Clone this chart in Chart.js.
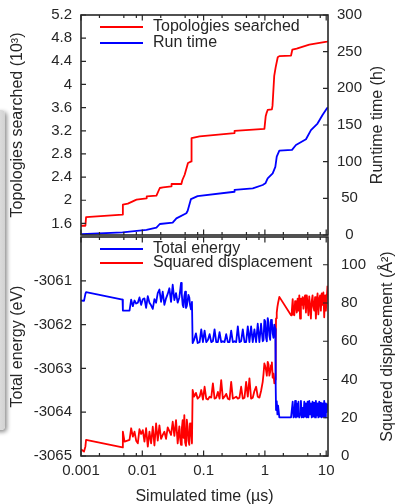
<!DOCTYPE html>
<html>
<head>
<meta charset="utf-8">
<style>
  html, body { margin: 0; padding: 0; background: #fff; }
  #wrap { position: relative; width: 398px; height: 504px; overflow: hidden; background: #fff; }
  #wrap canvas { position: absolute; left: 0; }
  #topChart { top: 0; }
  #bottomChart { top: 230px; }
  /* grey side tab peeking in at the left edge */
  .tab { position: absolute; left: -9px; top: 110px; width: 14px; height: 320px;
         background: linear-gradient(to right, #ececec, #d2d2d2); border-radius: 4px;
         box-shadow: 2px 2px 4px rgba(0, 0, 0, 0.45); }
</style>
</head>
<body>
<div id="wrap">
  <div class="tab"></div>
  <canvas id="topChart" width="398" height="250"></canvas>
  <canvas id="bottomChart" width="398" height="274"></canvas>
</div>
<script src="https://cdn.jsdelivr.net/npm/chart.js@4.4.1/dist/chart.umd.min.js"></script>
<script>
// ---- top panel: topologies searched (10^3) vs simulated time (us)
const searchT = [0.001, 0.00118, 0.00121, 0.00476, 0.00482, 0.00581, 0.00805, 0.0117, 0.0118, 0.0170,
  0.0193, 0.0218, 0.0298, 0.0300, 0.0434, 0.0451, 0.0491, 0.0556, 0.0631, 0.0636, 0.0861, 0.319, 0.320,
  0.982, 1.03, 1.06, 1.11, 1.30, 1.33, 1.42, 1.50, 1.62, 1.72, 2.67, 2.80, 3.30, 5.30, 10.3, 10.7];
const searchK = [1.56, 1.56, 1.71, 1.752, 1.924, 1.941, 2.010, 2.033, 2.067, 2.079,
  2.212, 2.222, 2.240, 2.281, 2.281, 2.35, 2.441, 2.643, 2.671, 3.074, 3.102, 3.160, 3.200,
  3.234, 3.45, 3.50, 3.56, 3.57, 3.63, 4.15, 4.30, 4.47, 4.49, 4.50, 4.60, 4.62, 4.69, 4.74, 4.745];

// ---- top panel: wall-clock run time (h)
const wallT = [0.001, 0.00476, 0.0117, 0.0170, 0.0193, 0.0313, 0.036, 0.0523, 0.055, 0.0622, 0.0798,
  0.319, 0.32, 0.634, 0.921, 1.019, 1.11, 1.34, 1.48, 1.56, 1.72, 2.77, 3.21, 4.68, 5.64, 7.22, 8.71, 10.3, 10.7];
const wallH = [1, 3.7, 7, 10, 15, 17, 22.7, 29.6, 33, 49, 53,
  59, 61.4, 63.7, 68.2, 70.5, 77.3, 84, 93, 107, 115, 116, 122.7, 130.5, 143, 152, 163.6, 172.8, 174];

// ---- bottom panel: total energy (eV) and squared displacement (A^2)
const mdTime = [0.00100, 0.00112, 0.00118, 0.00121, 0.00476, 0.00482, 0.00513, 0.00619,
  0.00658, 0.00701, 0.00746, 0.00794, 0.00845, 0.00899, 0.00957, 0.01019, 0.01084, 0.01154,
  0.01229, 0.01308, 0.01392, 0.01482, 0.01577, 0.01679, 0.01786, 0.01902, 0.02024, 0.02154,
  0.02293, 0.02441, 0.02598, 0.02765, 0.02943, 0.03133, 0.03334, 0.03549, 0.03777, 0.04020,
  0.04150, 0.04279, 0.04400, 0.04555, 0.04700, 0.04848, 0.05000, 0.05160, 0.05320, 0.05492,
  0.05650, 0.05846, 0.06000, 0.06223, 0.06460, 0.06624,
  0.0700, 0.0750, 0.0800, 0.0861, 0.0916, 0.0975, 0.1038, 0.1105, 0.1176, 0.1253, 0.1333,
  0.1418, 0.1509, 0.1607, 0.1710, 0.1820, 0.1937, 0.2062, 0.2195, 0.2337, 0.2488, 0.2648,
  0.2818, 0.3001, 0.3194, 0.3398, 0.3616, 0.3848, 0.4096, 0.4360, 0.4650, 0.4939, 0.5257,
  0.5595, 0.5955, 0.6338, 0.6746, 0.7180, 0.7641, 0.8133, 0.8656, 0.9213, 0.9500, 0.9806,
  1.0100, 1.0437, 1.0750, 1.1110, 1.1450, 1.1820, 1.2200, 1.2580, 1.3000, 1.3390, 1.3800,
  1.4260, 1.4800,
  1.50, 1.52, 1.56, 1.60, 1.64, 1.72, 2.67,
  2.75, 2.84, 2.93, 3.02, 3.11, 3.21, 3.31, 3.42, 3.53, 3.64, 3.75, 3.87, 4.00, 4.12, 4.25,
  4.39, 4.53, 4.67, 4.82, 4.97, 5.13, 5.29, 5.46, 5.63, 5.81, 5.99, 6.18, 6.38, 6.58, 6.79,
  7.00, 7.23, 7.45, 7.69, 7.94, 8.19, 8.45, 8.71, 8.99, 9.28, 9.58, 9.88, 10.2, 10.5];
const energy = [-3061.45, -3061.46, -3061.30, -3061.26, -3061.43, -3061.68, -3061.68, -3061.68,
  -3061.43, -3061.58, -3061.45, -3061.52, -3061.50, -3061.38, -3061.55, -3061.42, -3061.40, -3061.62,
  -3061.35, -3061.50, -3061.56, -3061.64, -3061.42, -3061.50, -3061.28, -3061.20, -3061.48, -3061.25,
  -3061.55, -3061.40, -3061.30, -3061.17, -3061.48, -3061.09, -3061.44, -3061.28, -3061.50, -3061.38,
  -3061.22, -3061.05, -3061.30, -3061.55, -3061.60, -3061.35, -3061.25, -3061.62, -3061.58, -3061.45,
  -3061.32, -3061.38, -3061.55, -3061.65, -3061.48, -3062.42,
  -3062.35, -3062.20, -3062.42, -3062.40, -3062.11, -3062.40, -3062.14, -3062.40, -3062.35, -3062.22, -3062.40,
  -3062.38, -3062.11, -3062.40, -3062.40, -3062.17, -3062.40, -3062.38, -3062.40, -3062.22, -3062.40, -3062.40,
  -3062.14, -3062.40, -3062.38, -3062.40, -3062.04, -3062.40, -3062.38, -3062.11, -3062.40, -3062.40, -3062.04,
  -3062.40, -3062.04, -3062.40, -3062.11, -3062.40, -3061.98, -3062.40, -3061.98, -3062.38, -3062.35, -3061.89,
  -3061.92, -3062.30, -3062.38, -3061.85, -3061.95, -3062.25, -3062.35, -3061.89, -3061.92, -3062.20, -3062.30,
  -3062.00, -3062.10,
  -3063.40, -3063.95, -3063.75, -3064.05, -3063.85, -3064.12, -3064.12,
  -3064.12, -3063.76, -3064.12, -3064.10, -3063.74, -3064.12, -3063.80, -3064.10, -3063.76, -3064.12, -3064.05,
  -3063.74, -3064.12, -3063.90, -3064.12, -3063.76, -3064.10, -3063.80, -3064.12, -3063.76, -3064.12, -3063.74,
  -3064.05, -3063.80, -3064.12, -3063.76, -3064.10, -3063.78, -3064.12, -3063.74, -3064.08, -3063.80, -3064.12,
  -3063.76, -3064.10, -3063.78, -3064.12, -3063.80, -3064.10, -3063.74, -3064.12, -3063.80, -3064.00, -3063.80];
const sqDisp = [3.5, 2.3, 5.0, 8.4, 4.5, 12.7, 7.5, 8.4,
  14.5, 10.1, 12.7, 8.0, 6.6, 14.0, 11.5, 13.5, 7.5, 14.5,
  4.9, 12.7, 6.6, 15.3, 5.5, 17.0, 8.0, 16.0, 9.0, 11.0,
  12.7, 9.0, 15.0, 13.0, 11.0, 17.9, 10.5, 18.8, 6.6, 15.5,
  9.0, 5.8, 14.0, 18.8, 9.5, 21.4, 7.0, 5.3, 19.0, 15.5,
  8.0, 5.8, 17.0, 13.5, 6.6, 34.5,
  31.0, 33.0, 30.0, 31.0, 34.5, 29.5, 36.2, 30.0, 29.5, 31.0, 30.5,
  38.0, 30.0, 30.5, 33.5, 30.0, 39.7, 30.0, 31.0, 32.5, 30.0, 29.5,
  38.8, 30.0, 30.5, 31.0, 30.0, 30.5, 36.2, 30.0, 30.5, 38.8, 31.0,
  40.6, 30.0, 30.5, 34.0, 36.2, 31.0, 30.5, 34.0, 38.8, 43.0, 48.4,
  47.0, 44.9, 42.0, 49.2, 48.0, 42.0, 44.0, 47.5, 49.0, 41.0, 43.0,
  38.0, 40.0,
  60.0, 72.0, 75.0, 78.0, 80.0, 83.2, 73.6,
  76, 82, 74, 73.6, 81, 79.5, 75, 82.3, 76, 84, 71.9, 82.3, 79, 83, 77,
  82.3, 84, 75, 84, 80, 73.6, 83.5, 78, 71.9, 81, 84, 78, 76, 83, 71.9,
  80, 85, 74, 82, 84, 76, 85, 79, 85.5, 72.5, 84, 76, 82, 89];

// ---- axis ticks
const xTicks = [0.001, 0.01, 0.1, 1, 10];
const xMinorSteps = [2, 5, 8];
const topLeftTicks = [1.6, 2, 2.4, 2.8, 3.2, 3.6, 4, 4.4, 4.8, 5.2];
const topRightTicks = [0, 50, 100, 150, 200, 250, 300];
const botLeftTicks = [-3065, -3064, -3063, -3062, -3061];
const botRightTicks = [0, 20, 40, 60, 80, 100];

const FONT = "'Liberation Sans', Arial, Helvetica, sans-serif";
const INK = '#262626';
const RED = '#ff0000';
const BLUE = '#0000ff';

const xy = (ts, vs) => ts.map((t, i) => ({ x: t, y: vs[i] }));
const setTicks = vals => scale => { scale.ticks = vals.map(v => ({ value: v })); };
// pin axis thickness and drop the label overhang padding so both panels line up
const fixSize = (w, h) => scale => {
  if (w != null) scale.width = w;
  if (h != null) scale.height = h;
  scale.paddingTop = 0; scale.paddingBottom = 0;
  scale.paddingLeft = 0; scale.paddingRight = 0;
};

// gnuplot-like frame: box, inward ticks on all sides, key and axis titles
const framePlugin = {
  id: 'frame',
  afterDraw(chart, args, opts) {
    const { ctx, chartArea: a, scales } = chart;
    ctx.save();
    ctx.strokeStyle = INK;
    ctx.lineWidth = 1.6;
    ctx.strokeRect(a.left, a.top, a.right - a.left, a.bottom - a.top);

    ctx.lineWidth = 1.2;
    ctx.beginPath();
    scales.yL.ticks.forEach(t => {
      const y = scales.yL.getPixelForValue(t.value);
      ctx.moveTo(a.left, y); ctx.lineTo(a.left + 5, y);
    });
    scales.yR.ticks.forEach(t => {
      const y = scales.yR.getPixelForValue(t.value);
      ctx.moveTo(a.right, y); ctx.lineTo(a.right - 5, y);
    });
    xTicks.forEach(d => {
      const marks = [[d, 5.5]].concat(xMinorSteps.map(m => [d * m, 3]));
      marks.forEach(([v, len]) => {
        if (v > scales.x.max) return;
        const x = scales.x.getPixelForValue(v);
        ctx.moveTo(x, a.bottom); ctx.lineTo(x, a.bottom - len);
        ctx.moveTo(x, a.top); ctx.lineTo(x, a.top + len);
      });
    });
    ctx.stroke();

    // key
    ctx.font = '16px ' + FONT;
    ctx.textBaseline = 'middle';
    ctx.textAlign = 'left';
    ctx.lineWidth = 1.8;
    opts.key.forEach(k => {
      ctx.strokeStyle = k.color;
      ctx.beginPath();
      ctx.moveTo(100, k.y); ctx.lineTo(143, k.y);
      ctx.stroke();
      ctx.fillStyle = INK;
      ctx.fillText(k.text, 153, k.y);
    });

    // axis titles
    ctx.fillStyle = INK;
    ctx.textAlign = 'center';
    const midY = (a.top + a.bottom) / 2;
    opts.titles.forEach(t => {
      ctx.save();
      ctx.translate(t.x, t.y != null ? t.y : midY);
      if (t.vertical) ctx.rotate(-Math.PI / 2);
      ctx.fillText(t.text, 0, 0);
      ctx.restore();
    });
    ctx.restore();
  }
};

const tickFont = { family: FONT, size: 15 };
const lineStyle = { pointRadius: 0, borderWidth: 1.8, tension: 0, fill: false, borderJoinStyle: 'round' };

function xAxis(showLabels, height) {
  return {
    type: 'logarithmic', min: 0.001, max: 10.7, position: 'bottom',
    grid: { display: false, drawTicks: false }, border: { display: false },
    ticks: { display: showLabels, color: INK, font: tickFont, padding: 6, maxRotation: 0, autoSkip: false,
             callback: v => String(v) },
    afterBuildTicks: setTicks(xTicks),
    afterFit: fixSize(null, height)
  };
}

function yAxis(pos, min, max, ticks, width, extra) {
  return Object.assign({
    type: 'linear', position: pos, min, max,
    grid: { display: false, drawTicks: false }, border: { display: false },
    ticks: { color: INK, font: tickFont, padding: 9, callback: v => String(v) },
    afterBuildTicks: setTicks(ticks),
    afterFit: fixSize(width, null)
  }, extra || {});
}

const common = {
  responsive: false, animation: false, events: [],
  plugins: { legend: { display: false }, tooltip: { enabled: false } }
};

new Chart(document.getElementById('topChart'), {
  type: 'line',
  data: {
    datasets: [
      Object.assign({ label: 'Topologies searched', data: xy(searchT, searchK), borderColor: RED, yAxisID: 'yL' }, lineStyle),
      Object.assign({ label: 'Run time', data: xy(wallT, wallH), borderColor: BLUE, yAxisID: 'yR' }, lineStyle)
    ]
  },
  options: Object.assign({}, common, {
    layout: { autoPadding: false, padding: { top: 15, left: 0, right: 0, bottom: 0 } },
    scales: {
      x: xAxis(false, 15),
      yL: yAxis('left', 1.4, 5.2, topLeftTicks, 81),
      yR: yAxis('right', 0, 300, topRightTicks, 70,
        { ticks: { color: INK, font: tickFont, padding: 9, crossAlign: 'center', callback: v => String(v) } })
    },
    plugins: Object.assign({}, common.plugins, {
      frame: {
        key: [{ text: 'Topologies searched', color: RED, y: 27 }, { text: 'Run time', color: BLUE, y: 43 }],
        titles: [
          { text: 'Topologies searched (10³)', x: 18, vertical: true },
          { text: 'Runtime time (h)', x: 378, vertical: true }
        ]
      }
    })
  }),
  plugins: [framePlugin]
});

new Chart(document.getElementById('bottomChart'), {
  type: 'line',
  data: {
    datasets: [
      Object.assign({ label: 'Total energy', data: xy(mdTime, energy), borderColor: BLUE, yAxisID: 'yL' }, lineStyle),
      Object.assign({ label: 'Squared displacement', data: xy(mdTime, sqDisp), borderColor: RED, yAxisID: 'yR' }, lineStyle)
    ]
  },
  options: Object.assign({}, common, {
    layout: { autoPadding: false, padding: { top: 7, left: 0, right: 0, bottom: 0 } },
    scales: {
      x: xAxis(true, 48),
      yL: yAxis('left', -3065, -3060, botLeftTicks, 81),
      yR: yAxis('right', 0, 114.5, botRightTicks, 70,
        { ticks: { color: INK, font: tickFont, padding: 13, callback: v => String(v) } })
    },
    plugins: Object.assign({}, common.plugins, {
      frame: {
        key: [{ text: 'Total energy', color: BLUE, y: 19 }, { text: 'Squared displacement', color: RED, y: 33 }],
        titles: [
          { text: 'Total energy (eV)', x: 17.5, vertical: true },
          { text: 'Squared displacement (Å²)', x: 388, vertical: true },
          { text: 'Simulated time (µs)', x: 204.5, y: 266.5 }
        ]
      }
    })
  }),
  plugins: [framePlugin]
});
</script>
</body>
</html>
